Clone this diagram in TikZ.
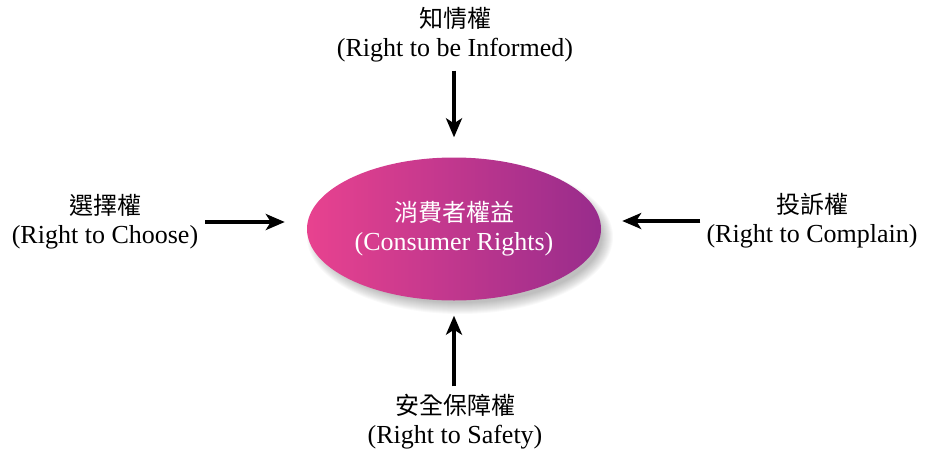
\documentclass[tikz,border=0pt]{standalone}
\usepackage{fontspec}
\setmainfont{Liberation Serif}
\newfontfamily\cjk{Noto Sans CJK TC}
\usetikzlibrary{arrows.meta,shapes.geometric}
\definecolor{pinkL}{RGB}{232,66,143}
\definecolor{purpR}{RGB}{152,44,140}
\newcommand{\zh}[1]{{\cjk\fontsize{24}{29}\selectfont #1}}
\begin{document}
\begin{tikzpicture}[x=1pt,y=-1pt,
  lbl/.style={align=center, inner sep=0pt, font=\fontsize{26}{29}\selectfont},
  arr/.style={line width=3.4pt, -{Stealth[length=19pt,width=16pt,inset=5pt]}},
  hub/.style={ellipse, minimum width=294pt, minimum height=143pt, inner sep=0pt,
    left color=pinkL, right color=purpR, align=center, text=white,
    font=\fontsize{26}{29}\selectfont}]
\useasboundingbox (0,0) rectangle (925,452);
% soft shadow
\foreach \i in {0,...,11}{
  \fill[black, opacity=0.025] (460,237) ellipse [x radius={(153-\i)*1pt}, y radius={(77-\i)*1pt}];
}
\node[hub] (hub) at (454,229) {\zh{消費者權益}\\(Consumer Rights)};
\node[lbl] (top) at (455,35) {\zh{知情權}\\(Right to be Informed)};
\node[lbl] (lft) at (105,222) {\zh{選擇權}\\(Right to Choose)};
\node[lbl] (rgt) at (812,221) {\zh{投訴權}\\(Right to Complain)};
\node[lbl] (bot) at (455,422) {\zh{安全保障權}\\(Right to Safety)};
\draw[arr, shorten <=8pt, shorten >=20pt] (top.south -| hub.north) -- (hub.north);
\draw[arr, shorten <=8pt, shorten >=15pt] (bot.north -| hub.south) -- (hub.south);
\draw[arr, shorten <=7pt, shorten >=22pt] (lft.east) -- (lft.east -| hub.west);
\draw[arr, shorten <=6pt, shorten >=21pt] (rgt.west) -- (rgt.west -| hub.east);
\end{tikzpicture}
\end{document}
